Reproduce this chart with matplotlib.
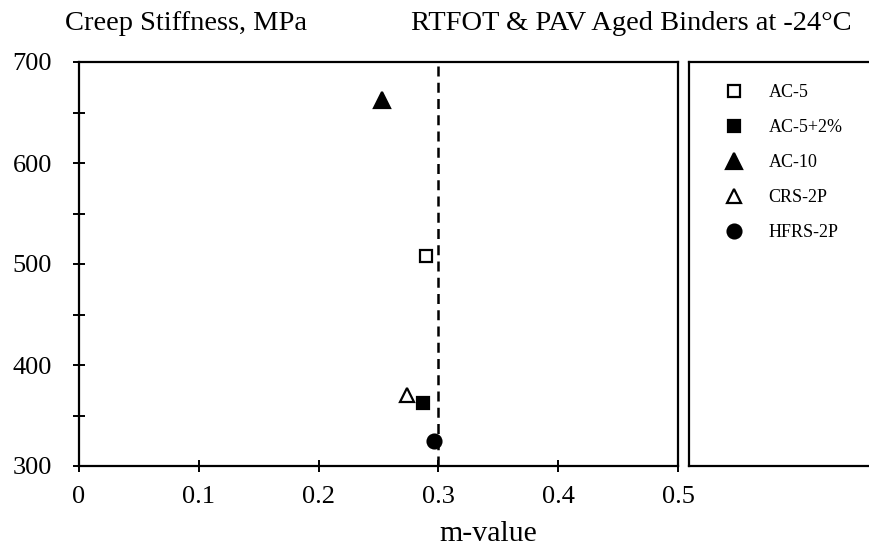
import matplotlib
matplotlib.use("Agg")
import matplotlib.pyplot as plt
from matplotlib.ticker import MultipleLocator

plt.rcParams['font.family'] = ['Liberation Serif', 'DejaVu Serif']

# data
binders = ["AC-5", "AC-5+2%", "AC-10", "CRS-2P", "HFRS-2P"]
m_value = [0.290, 0.287, 0.253, 0.274, 0.296]
stiffness = [508, 362, 662, 370, 325]
markers = ["s", "s", "^", "^", "o"]
filled = [False, True, True, False, True]
msizes = [8.5, 8.5, 11, 10, 10]
m_limit = 0.3

W, H = 870, 548
fig = plt.figure(figsize=(W / 100, H / 100), dpi=100)


def fx(px):
    return px / W


def fy(py):
    return 1 - py / H


ax = fig.add_axes([fx(79), fy(466), fx(678) - fx(79), fy(62) - fy(466)])
for name, m, s, mk, f, ms in zip(binders, m_value, stiffness, markers, filled, msizes):
    ax.plot([m], [s], linestyle="none", marker=mk, markersize=ms,
            markerfacecolor="black" if f else "white", markeredgecolor="black",
            markeredgewidth=1.6, label=name, zorder=3)

ax.axvline(m_limit, color="black", linestyle=(0, (4, 2.5)), linewidth=1.8, zorder=2)

ax.set_xlim(0, 0.5)
ax.set_ylim(300, 700)
ax.yaxis.set_major_locator(MultipleLocator(100))
ax.yaxis.set_minor_locator(MultipleLocator(50))
ax.set_xticks([0, 0.1, 0.2, 0.3, 0.4, 0.5])
ax.set_xticklabels(["0", "0.1", "0.2", "0.3", "0.4", "0.5"])
ax.tick_params(axis="both", which="both", direction="inout", length=9, width=1.4,
               labelsize=19, top=False, right=False)
ax.tick_params(axis="y", which="major", pad=15)
ax.tick_params(axis="x", which="major", pad=10)
for sp in ax.spines.values():
    sp.set_linewidth(1.6)

# legend panel
lax = fig.add_axes([fx(689), fy(466), 1.02 - fx(689), fy(62) - fy(466)])
lax.set_xticks([])
lax.set_yticks([])
for sp in lax.spines.values():
    sp.set_linewidth(1.6)
lax.spines["right"].set_visible(False)

handles, labels = ax.get_legend_handles_labels()
fig.legend(handles, labels, loc="upper left", bbox_to_anchor=(fx(725), fy(84)),
           frameon=False, fontsize=13, numpoints=1, handlelength=1.0,
           handletextpad=1.4, labelspacing=1.0, borderaxespad=0, borderpad=0)

fig.text(fx(65), fy(23), "Creep Stiffness, MPa", fontsize=20.5, ha="left", va="center")
fig.text(fx(411), fy(23), "RTFOT & PAV Aged Binders at -24°C", fontsize=20.5,
         ha="left", va="center")
fig.text(fx(488), fy(541), "m-value", fontsize=21.5, ha="center", va="baseline")

fig.savefig("out.png", dpi=100)
